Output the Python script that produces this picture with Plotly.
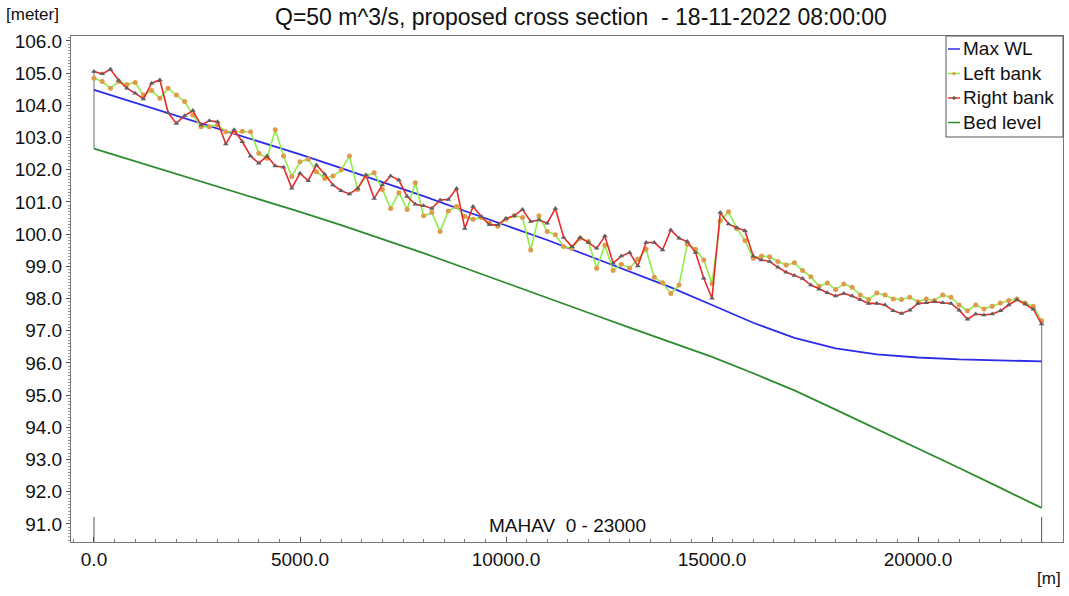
import plotly.graph_objects as go

# ---- data -------------------------------------------------------------
# bank chainages (m), cross sections every 200 m along MAHAV
chainage = list(range(0, 23001, 200))

left_bank = [
    104.84, 104.74, 104.53, 104.74, 104.65, 104.71, 104.32, 104.46, 104.22, 104.53,
    104.32, 104.12, 103.70, 103.34, 103.34, 103.39, 103.18, 103.18, 103.20, 103.18,
    102.51, 102.36, 103.24, 102.43, 101.79, 102.25, 102.33, 101.94, 101.73, 101.81,
    101.99, 102.43, 101.39, 101.81, 101.91, 101.39, 100.80, 101.29, 100.77, 101.60,
    100.57, 100.67, 100.08, 100.72, 100.86, 100.55, 100.46, 100.52, 100.34, 100.25,
    100.46, 100.57, 100.52, 99.51, 100.57, 100.08, 99.98, 99.62, 99.56, 99.87,
    99.77, 98.94, 99.66, 98.87, 99.07, 98.94, 99.22, 99.53, 98.66, 98.49,
    98.16, 98.42, 99.69, 99.53, 99.20, 98.47, 100.42, 100.70, 100.18, 99.80,
    99.25, 99.32, 99.30, 99.15, 99.04, 99.11, 98.87, 98.68, 98.38, 98.48,
    98.28, 98.45, 98.35, 98.11, 97.97, 98.17, 98.11, 97.99, 97.97, 98.04,
    97.90, 97.99, 97.94, 98.11, 98.04, 97.80, 97.62, 97.80, 97.68, 97.76,
    97.86, 97.94, 97.99, 97.86, 97.76, 97.31,
]

right_bank = [
    105.05, 104.98, 105.12, 104.77, 104.53, 104.38, 104.20, 104.69, 104.79, 103.77,
    103.44, 103.68, 103.84, 103.39, 103.52, 103.49, 102.80, 103.24, 102.87, 102.43,
    102.20, 102.43, 102.12, 102.08, 101.43, 101.89, 101.66, 102.15, 101.86, 101.53,
    101.35, 101.25, 101.42, 101.84, 101.11, 101.53, 101.81, 101.68, 101.17, 100.93,
    100.88, 100.80, 101.06, 101.08, 101.42, 100.18, 100.86, 100.55, 100.29, 100.29,
    100.49, 100.57, 100.77, 100.39, 100.44, 100.34, 100.80, 99.90, 99.61, 99.90,
    99.74, 99.56, 99.94, 99.10, 99.32, 99.43, 99.01, 99.74, 99.74, 99.51,
    100.13, 99.87, 99.77, 99.43, 98.63, 98.01, 100.67, 100.32, 100.20, 100.11,
    99.32, 99.20, 99.15, 98.97, 98.82, 98.72, 98.62, 98.42, 98.29, 98.18,
    98.08, 98.16, 98.08, 97.96, 97.85, 97.85, 97.80, 97.62, 97.54, 97.64,
    97.85, 97.87, 97.90, 97.87, 97.85, 97.64, 97.36, 97.52, 97.49, 97.52,
    97.62, 97.80, 97.96, 97.83, 97.67, 97.21,
]

# longitudinal profile every 1000 m
profile_chainage = list(range(0, 23001, 1000))
max_wl = [
    104.48, 104.08, 103.67, 103.27, 102.87, 102.48, 102.05, 101.62, 101.18, 100.72,
    100.28, 99.82, 99.33, 98.85, 98.35, 97.80, 97.25, 96.78, 96.45, 96.27,
    96.17, 96.11, 96.07, 96.05,
]
bed_level = [
    102.66, 102.27, 101.88, 101.49, 101.09, 100.69, 100.28, 99.85, 99.41, 98.95,
    98.48, 98.02, 97.56, 97.10, 96.65, 96.19, 95.68, 95.15, 94.55, 93.95,
    93.36, 92.74, 92.12, 91.50,
]

branch_name = "MAHAV  0 - 23000"
branch_ends = [0, 23000]
title_text = "Q=50 m^3/s, proposed cross section  - 18-11-2022 08:00:00"

x_ticks = [0, 5000, 10000, 15000, 20000]
x_tick_labels = ["0.0", "5000.0", "10000.0", "15000.0", "20000.0"]
y_ticks = list(range(91, 107))
y_tick_labels = [f"{v:.1f}" for v in y_ticks]

# ---- styling ------------------------------------------------------------
W, H = 1069, 596
PL, PR, PT, PB = 71, 1063, 36, 542          # plot area in pixels
FONT = "Liberation Sans, Arial, sans-serif"
C_WL = "#2b2be8"
C_LB_LINE = "#8cef48"
C_LB_MK = "#e09a4c"
C_RB_LINE = "#e62b2b"
C_RB_MK = "#606060"
C_BED = "#2e8b2e"
C_GREY = "#8c8c8c"


def px_x(p):
    return (p - PL) / (PR - PL)


def px_y(p):
    return (PB - p) / (PB - PT)


fig = go.Figure()

# cross-section end verticals (bed to bank top)
for i_end, i_prof in ((0, 0), (-1, -1)):
    fig.add_trace(go.Scatter(
        x=[chainage[i_end], chainage[i_end]],
        y=[bed_level[i_prof], max(left_bank[i_end], right_bank[i_end])],
        mode="lines", line=dict(color=C_GREY, width=1.3),
        hoverinfo="skip", showlegend=False))

fig.add_trace(go.Scatter(x=profile_chainage, y=bed_level, mode="lines",
                         line=dict(color=C_BED, width=1.8), name="Bed level"))
fig.add_trace(go.Scatter(x=profile_chainage, y=max_wl, mode="lines",
                         line=dict(color=C_WL, width=1.8), name="Max WL"))
fig.add_trace(go.Scatter(x=chainage, y=left_bank, mode="lines+markers",
                         line=dict(color=C_LB_LINE, width=1.6),
                         marker=dict(color=C_LB_MK, size=5, symbol="circle"),
                         name="Left bank"))
fig.add_trace(go.Scatter(x=chainage, y=right_bank, mode="lines+markers",
                         line=dict(color=C_RB_LINE, width=1.6),
                         marker=dict(color=C_RB_MK, size=5, symbol="triangle-up"),
                         name="Right bank"))

# branch markers along the bottom
for xe in branch_ends:
    fig.add_shape(type="line", xref="x", yref="paper", x0=xe, x1=xe,
                  y0=0, y1=px_y(517), line=dict(color="#555555", width=1))

# legend box drawn manually
fig.add_shape(type="rect", xref="paper", yref="paper",
              x0=px_x(946), x1=px_x(1063), y0=px_y(137), y1=px_y(36),
              line=dict(color="#555555", width=1), fillcolor="white", layer="above")
legend_items = [("Max WL", C_WL, None), ("Left bank", C_LB_LINE, C_LB_MK),
                ("Right bank", C_RB_LINE, C_RB_MK), ("Bed level", C_BED, None)]
for k, (label, lc, mc) in enumerate(legend_items):
    yc = 49 + k * 24.5
    fig.add_shape(type="line", xref="paper", yref="paper",
                  x0=px_x(948), x1=px_x(960), y0=px_y(yc), y1=px_y(yc),
                  line=dict(color=lc, width=1.5), layer="above")
    if mc:
        fig.add_shape(type="circle", xref="paper", yref="paper",
                      x0=px_x(952.5), x1=px_x(955.5), y0=px_y(yc + 1.5), y1=px_y(yc - 1.5),
                      line=dict(color=mc, width=0.5), fillcolor=mc, layer="above")
    fig.add_annotation(text=label, xref="paper", yref="paper",
                       x=px_x(961), y=px_y(yc), xanchor="left", yanchor="middle",
                       showarrow=False, font=dict(family=FONT, size=19, color="#111111"))

# texts
fig.add_annotation(text=title_text, xref="paper", yref="paper",
                   x=px_x(581), y=px_y(17), xanchor="center", yanchor="middle",
                   showarrow=False, font=dict(family=FONT, size=23, color="#111111"))
fig.add_annotation(text="[meter]", xref="paper", yref="paper",
                   x=px_x(4), y=px_y(14), xanchor="left", yanchor="middle",
                   showarrow=False, font=dict(family=FONT, size=17, color="#111111"))
fig.add_annotation(text="[m]", xref="paper", yref="paper",
                   x=px_x(1063), y=px_y(578), xanchor="right", yanchor="middle",
                   showarrow=False, font=dict(family=FONT, size=17, color="#111111"))
fig.add_annotation(text=branch_name, xref="paper", yref="paper",
                   x=px_x(567), y=px_y(525), xanchor="center", yanchor="middle",
                   showarrow=False, font=dict(family=FONT, size=19, color="#111111"))

x0 = -558
x1 = 23519
fig.update_layout(
    width=W, height=H,
    margin=dict(l=PL, r=W - PR, t=PT, b=H - PB, pad=0),
    paper_bgcolor="white", plot_bgcolor="white",
    showlegend=False,
    font=dict(family=FONT, size=19, color="#111111"),
    xaxis=dict(range=[x0, x1], showgrid=False, zeroline=False,
               showline=True, linecolor="#777777", linewidth=1, mirror=True,
               tickmode="array", tickvals=x_ticks, ticktext=x_tick_labels,
               ticks="inside", ticklen=5, tickcolor="#555555",
               minor=dict(dtick=500, tick0=0, ticks="inside", ticklen=3, tickcolor="#777777"),
               tickfont=dict(family=FONT, size=19, color="#111111")),
    yaxis=dict(range=[90.44, 106.155], showgrid=False, zeroline=False,
               showline=True, linecolor="#777777", linewidth=1, mirror=True,
               tickmode="array", tickvals=y_ticks, ticktext=y_tick_labels,
               ticks="outside", ticklen=4, tickcolor="#555555",
               minor=dict(dtick=0.1, tick0=91, ticks="outside", ticklen=2, tickcolor="#999999"),
               tickfont=dict(family=FONT, size=19, color="#111111")),
)

fig.write_html("out.html")
